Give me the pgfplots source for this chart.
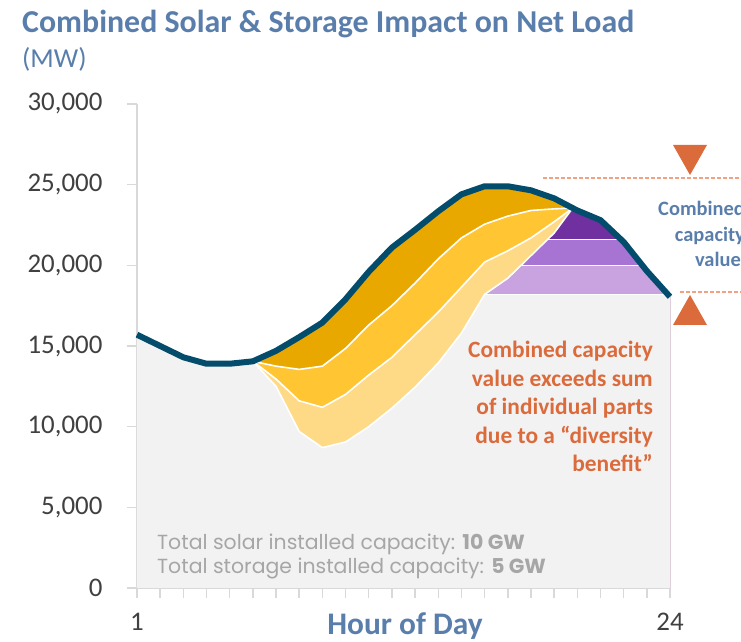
\documentclass[border=0pt]{standalone}
\usepackage{fontspec}
\setmainfont{Carlito}
\newfontfamily\gothic{Poppins}
\usepackage{pgfplots}
\pgfplotsset{compat=1.18}

\definecolor{goldA}{HTML}{E8A800}
\definecolor{goldB}{HTML}{FFC533}
\definecolor{goldC}{HTML}{FFDA86}
\definecolor{purA}{HTML}{7030A0}
\definecolor{purB}{HTML}{A874D3}
\definecolor{purC}{HTML}{C9A2E0}
\definecolor{bggray}{HTML}{F2F2F2}
\definecolor{loadblue}{HTML}{034C6C}
\definecolor{titleblue}{HTML}{5A7EAC}
\definecolor{note}{HTML}{DC6B3C}
\definecolor{dashnote}{HTML}{F0A282}
\definecolor{graytext}{HTML}{A6A6A6}
\definecolor{ticktext}{HTML}{404040}
\definecolor{axisgray}{HTML}{D9D9D9}

\begin{document}
\begin{tikzpicture}[x=1bp,y=1bp]
\useasboundingbox (-137,-54) rectangle (604,588);
\clip (-137,-54) rectangle (604,588);
\begin{axis}[
    scale only axis,
    width=533bp, height=484bp,
    at={(0,0)}, anchor=south west,
    xmin=1, xmax=24, ymin=0, ymax=30000,
    clip=false,
    axis x line*=bottom, axis y line*=left,
    axis line style={draw=axisgray, line width=2bp, -},
    tick align=outside,
    major tick length=10bp, minor tick length=10bp,
    tick style={draw=axisgray, line width=1.5bp},
    xtick={1,24}, minor xtick={2,...,23},
    ytick={0,5000,...,30000},
    scaled y ticks=false,
    ticklabel style={font=\fontsize{27}{32}\selectfont, text=ticktext},
    xticklabel style={yshift=-12bp},
    yticklabel style={xshift=-21bp},
    /pgf/number format/1000 sep={,},
    /pgf/number format/assume math mode=true,
]
% gross load area (solar, first tranche)
\addplot[draw=none, fill=goldA] coordinates {
 (6,14050) (7,14700) (8,15550) (9,16450) (10,17900) (11,19600) (12,21100)
 (13,22200) (14,23350) (15,24400) (16,24900) (17,24900) (18,24650) (19,24150)
 (20,23400) (21,22800) (22,21450) (23,19650) (24,18050)} \closedcycle;
\addplot[draw=none, fill=goldB] coordinates {
 (6,14050) (7,13750) (8,13550) (9,13750) (10,14850) (11,16300) (12,17500)
 (13,18900) (14,20400) (15,21700) (16,22550) (17,23050) (18,23400) (19,23500)
 (19.8,23550)} \closedcycle;
\addplot[draw=none, fill=goldC] coordinates {
 (6,14050) (7,12950) (8,11600) (9,11200) (10,12000) (11,13200) (12,14300)
 (13,15700) (14,17100) (15,18650) (16,20200) (17,20900) (18,21700) (19,22700)
 (19.8,23550)} \closedcycle;
% storage bands
\addplot[draw=none, fill=purA] coordinates {
 (16,18200) (17,19200) (18,20600) (19,22000) (19.8,23550) (20,23400)
 (21,22800) (22,21450) (23,19650) (24,18050)} \closedcycle;
\addplot[draw=none, fill=purB] coordinates {
 (16,18200) (17,19200) (18,20600) (18.714,21600) (21.889,21600) (22,21450)
 (23,19650) (24,18050)} \closedcycle;
\addplot[draw=none, fill=purC] coordinates {
 (16,18200) (17,19200) (17.571,20000) (22.806,20000) (23,19650)
 (24,18050)} \closedcycle;
% net load
\addplot[draw=none, fill=bggray] coordinates {
 (1,15700) (2,15000) (3,14300) (4,13900) (5,13900) (6,14050) (7,12500)
 (8,9700) (9,8700) (10,9050) (11,10000) (12,11150) (13,12450) (14,13950)
 (15,15800) (16,18200) (24,18200)} \closedcycle;
% white separators
\addplot[white, line width=1.6bp] coordinates {
 (6,14050) (7,13750) (8,13550) (9,13750) (10,14850) (11,16300) (12,17500)
 (13,18900) (14,20400) (15,21700) (16,22550) (17,23050) (18,23400) (19,23500)
 (19.8,23550)};
\addplot[white, line width=1.6bp] coordinates {
 (6,14050) (7,12950) (8,11600) (9,11200) (10,12000) (11,13200) (12,14300)
 (13,15700) (14,17100) (15,18650) (16,20200) (17,20900) (18,21700) (19,22700)
 (19.8,23550)};
\addplot[white, line width=1.6bp] coordinates {
 (6,14050) (7,12500) (8,9700) (9,8700) (10,9050) (11,10000) (12,11150)
 (13,12450) (14,13950) (15,15800) (16,18200) (17,19200) (18,20600) (19,22000)
 (19.8,23550)};
\addplot[white, line width=1.6bp] coordinates {(18.714,21600) (21.889,21600)};
\addplot[white, line width=1.6bp] coordinates {(17.571,20000) (22.806,20000)};
\addplot[white, line width=1.6bp] coordinates {(16,18200) (23.906,18200)};
% gross load line
\addplot[loadblue, line width=6bp, line join=round] coordinates {
 (1,15700) (2,15000) (3,14300) (4,13900) (5,13900) (6,14050) (7,14700)
 (8,15550) (9,16450) (10,17900) (11,19600) (12,21100) (13,22200) (14,23350)
 (15,24400) (16,24900) (17,24900) (18,24650) (19,24150) (20,23400)
 (21,22800) (22,21450) (23,19650) (24,18050)};
\end{axis}

\node[anchor=base west, inner sep=0, text=titleblue, font=\bfseries\fontsize{32}{38}\selectfont]
  at (-115,555) {Combined Solar \& Storage Impact on Net Load};
\node[anchor=base west, inner sep=0, text=titleblue, font=\fontsize{27.5}{33}\selectfont]
  at (-115,520) {(MW)};
\node[anchor=base, inner sep=0, text=titleblue, font=\bfseries\fontsize{31.5}{38}\selectfont]
  at (268,-47) {Hour of Day};

\begin{scope}[every node/.style={anchor=base east, inner sep=0, text=note,
    font=\bfseries\fontsize{23.5}{28}\selectfont}]
\node at (516,230) {Combined capacity};
\node at (516,201.5) {value exceeds sum};
\node at (516,173) {of individual parts};
\node at (516,144.5) {due to a “diversity};
\node at (516,116) {benefit”};
\end{scope}

\begin{scope}[every node/.style={anchor=base east, inner sep=0, text=titleblue,
    font=\bfseries\fontsize{20.5}{25}\selectfont}]
\node at (608,372) {Combined};
\node at (608,346) {capacity};
\node at (604,321) {value};
\end{scope}

\draw[dashnote, line width=1.2bp, dash pattern=on 4bp off 2bp] (406,410) -- (604,410);
\draw[dashnote, line width=1.2bp, dash pattern=on 4bp off 2bp] (543,296) -- (604,296);
\fill[note] (536,443) -- (570,443) -- (553,413) -- cycle;
\fill[note] (536,263) -- (570,263) -- (553,293) -- cycle;

\node[anchor=base west, inner sep=0, text=graytext, font=\gothic\fontsize{20.5}{24}\selectfont]
  at (20,38.5) {Total solar installed capacity: \textbf{10 GW}};
\node[anchor=base west, inner sep=0, text=graytext, font=\gothic\fontsize{20.5}{24}\selectfont]
  at (20,14.5) {Total storage installed capacity: \textbf{5 GW}};
\end{tikzpicture}
\end{document}
